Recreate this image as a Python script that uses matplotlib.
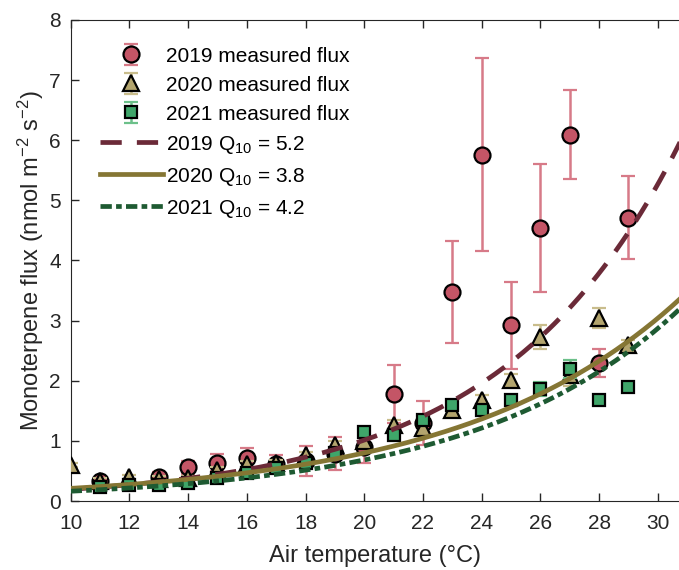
import numpy as np
import matplotlib.pyplot as plt

plt.rcParams["font.family"] = ["Liberation Sans", "DejaVu Sans"]
plt.rcParams["mathtext.default"] = "regular"

# measured flux (nan = not shown)
nan = np.nan
temp = list(range(10, 30))
flux_2019 = [nan, 0.33, nan, 0.40, 0.56, 0.64, 0.72, 0.62, 0.67, 0.79,
             0.90, 1.78, 1.30, 3.47, 5.76, 2.92, 4.54, 6.09, 2.29, 4.71]
err_2019 = [nan, 0.05, nan, 0.08, 0.11, 0.14, 0.17, 0.15, 0.25, 0.27,
            0.27, 0.48, 0.37, 0.85, 1.60, 0.72, 1.06, 0.74, 0.23, 0.69]
flux_2020 = [0.60, 0.34, 0.40, 0.37, 0.38, 0.52, 0.62, 0.63, 0.77, 0.93,
             0.99, 1.27, 1.22, 1.51, 1.68, 2.01, 2.73, 2.10, 3.04, 2.60]
err_2020 = [0.04, 0.04, 0.04, 0.04, 0.04, 0.05, 0.05, 0.05, 0.05, 0.06,
            0.06, 0.07, 0.07, 0.08, 0.08, 0.10, 0.20, 0.18, 0.17, 0.08]
flux_2021 = [nan, 0.24, 0.27, 0.27, 0.30, 0.38, 0.47, 0.55, 0.63, 0.80,
             1.15, 1.10, 1.34, 1.60, 1.51, 1.68, 1.86, 2.20, 1.68, 1.89]
err_2021 = [nan, 0.03, 0.03, 0.03, 0.03, 0.04, 0.04, 0.04, 0.05, 0.05,
            0.06, 0.06, 0.06, 0.07, 0.07, 0.07, 0.12, 0.15, 0.07, 0.07]

# Q10 fits: flux at 30 degC and Q10
q10 = {"2019": 5.2, "2020": 3.8, "2021": 4.2}
f30 = {"2019": 5.27, "2020": 3.04, "2021": 2.87}

fig = plt.figure(figsize=(6.79, 5.70), dpi=100)
ax = fig.add_axes([0.104, 0.121, 0.896, 0.844])

h1 = ax.errorbar(temp, flux_2019, yerr=err_2019, fmt="o", ms=11.5,
                 mfc="#c45566", mec="black", mew=1.6, ecolor="#d77a88",
                 elinewidth=1.8, capsize=5, capthick=1.8, zorder=2,
                 label="2019 measured flux")
h2 = ax.errorbar(temp, flux_2020, yerr=err_2020, fmt="^", ms=12,
                 mfc="#b3a56e", mec="black", mew=1.6, ecolor="#c9bd8c",
                 elinewidth=1.8, capsize=5, capthick=1.8, zorder=3,
                 label="2020 measured flux")
h3 = ax.errorbar(temp, flux_2021, yerr=err_2021, fmt="s", ms=8,
                 mfc="#3fa66a", mec="black", mew=1.6, ecolor="#6cc08a",
                 elinewidth=1.8, capsize=5, capthick=1.8, zorder=4,
                 label="2021 measured flux")

t = np.linspace(10, 31, 200)
l1, = ax.plot(t, f30["2019"] * q10["2019"] ** ((t - 30) / 10),
              color="#6b2a38", lw=3.4, ls=(0, (4.5, 3.2)), zorder=5,
              label="2019 Q$_{10}$ = 5.2")
l2, = ax.plot(t, f30["2020"] * q10["2020"] ** ((t - 30) / 10),
              color="#857634", lw=3.4, ls="-", zorder=5,
              label="2020 Q$_{10}$ = 3.8")
l3, = ax.plot(t, f30["2021"] * q10["2021"] ** ((t - 30) / 10),
              color="#1e5a32", lw=3.4, ls=(0, (2.4, 0.9, 1.2, 0.9)), zorder=5,
              label="2021 Q$_{10}$ = 4.2")

ax.set_xlim(10, 30.72)
ax.set_ylim(0, 8)
ax.set_xticks(range(10, 31, 2))
ax.set_yticks(range(0, 9))
ax.tick_params(direction="in", top=True, right=False, length=6,
               labelsize=15, colors="#262626", width=1)
ax.tick_params(axis="x", pad=9)
ax.tick_params(axis="y", pad=7)
for s in ["left", "bottom", "top"]:
    ax.spines[s].set_color("#262626")
ax.spines["right"].set_visible(False)

ax.set_xlabel("Air temperature (°C)", fontsize=17, color="#262626",
              labelpad=9)
ax.set_ylabel("Monoterpene flux (nmol m$^{-2}$ s$^{-2}$)", fontsize=17,
              color="#262626", labelpad=2)

ax.legend([h1, h2, h3, l1, l2, l3],
          [h.get_label() for h in [h1, h2, h3, l1, l2, l3]],
          loc="upper left", frameon=False, fontsize=15, handlelength=3.0,
          borderaxespad=0.0, labelspacing=0.48, handletextpad=0.15,
          bbox_to_anchor=(0.035, 0.962))

fig.savefig("out.png", dpi=100)
